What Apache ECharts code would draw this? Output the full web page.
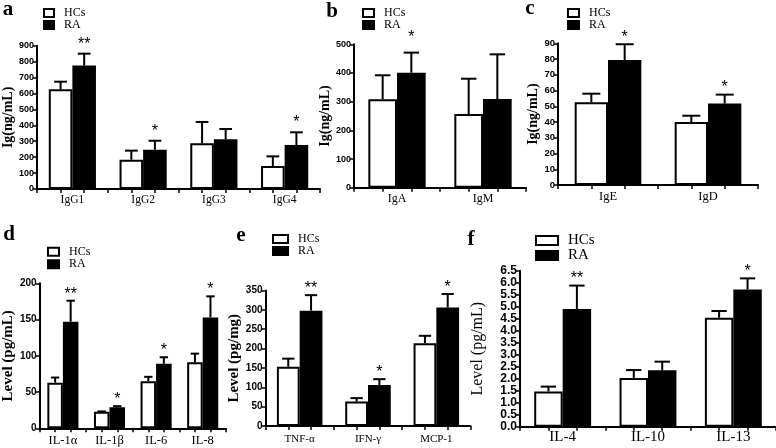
<!DOCTYPE html>
<html>
<head>
<meta charset="utf-8">
<script src="https://cdn.jsdelivr.net/npm/echarts@6/dist/echarts.min.js"></script>
<style>
html,body{margin:0;padding:0;background:#fff;}
#chart{width:776px;height:448px;}
</style>
</head>
<body>
<div id="chart"></div>
<script>
// ---- data ----
const seriesNames = ['HCs', 'RA'];

const catsA = ['IgG1', 'IgG2', 'IgG3', 'IgG4'];
const hcA = [626, 184, 287, 144];
const hcUpA = [674, 241, 421, 205];
const raA = [775, 247, 312, 276];
const raUpA = [850, 303, 377, 356];
const starsA = ['**', '*', '', '*'];

const catsB = ['IgA', 'IgM'];
const hcB = [308, 257];
const hcUpB = [392, 380];
const raB = [401, 309];
const raUpB = [471, 465];
const starsB = ['*', ''];

const catsC = ['IgE', 'IgD'];
const hcC = [52.5, 40];
const hcUpC = [58, 44];
const raC = [79.4, 51.7];
const raUpC = [89.4, 57.4];
const starsC = ['*', '*'];

const catsD = ['IL-1α', 'IL-1β', 'IL-6', 'IL-8'];
const hcD = [63, 23, 65, 91];
const hcUpD = [70, 23.3, 71, 103];
const raD = [147, 29, 89, 153];
const raUpD = [176, 30.5, 98, 182];
const starsD = ['**', '*', '*', '*'];

const catsE = ['TNF-α', 'IFN-γ', 'MCP-1'];
const hcE = [153, 63, 214];
const hcUpE = [174, 72, 233];
const raE = [298, 106, 306];
const raUpE = [338, 121, 341];
const starsE = ['**', '*', '*'];

const catsF = ['IL-4', 'IL-10', 'IL-13'];
const hcF = [1.47, 2.03, 4.54];
const hcUpF = [1.67, 2.36, 4.82];
const raF = [4.9, 2.35, 5.72];
const raUpF = [5.88, 2.71, 6.18];
const starsF = ['**', '', '*'];

const yMax = [900, 500, 90, 200, 350, 6.5];
const yInterval = [100, 100, 10, 50, 50, 0.5];
const yNames = ['Ig(ng/mL)', 'Ig(ng/mL)', 'Ig(ng/mL)', 'Level (pg/mL)', 'Level (pg/mg)', 'Level (pg/mL)'];
const panelLetters = ['a', 'b', 'c', 'd', 'e', 'f'];

// ---- layout / style ----
const SERIF = "'Liberation Serif','DejaVu Serif',serif";
const SANS = "'Liberation Sans','DejaVu Sans',sans-serif";

const panels = [
  {cats: catsA, hc: hcA, hcUp: hcUpA, ra: raA, raUp: raUpA, stars: starsA,
   grid: {left: 37, top: 45.7, width: 283, height: 143.3},
   yFont: 9, xFont: 11.5, xMargin: 5, nameFont: 14, nameGap: 22, nameBold: true, starGap: 13,
   legend: {left: 43, top: 7, w: 10, h: 8, font: 12, lh: 12},
   letter: [8, 10]},
  {cats: catsB, hc: hcB, hcUp: hcUpB, ra: raB, raUp: raUpB, stars: starsB,
   grid: {left: 354, top: 44.3, width: 172, height: 143.4},
   yFont: 9, xFont: 12, xMargin: 5, nameFont: 14, nameGap: 19, nameBold: true, starGap: 19,
   legend: {left: 362, top: 7, w: 11, h: 8, font: 12, lh: 12},
   letter: [332, 11.5]},
  {cats: catsC, hc: hcC, hcUp: hcUpC, ra: raC, raUp: raUpC, stars: starsC,
   grid: {left: 558, top: 43.3, width: 200, height: 141.7},
   yFont: 9.5, xFont: 12.5, xMargin: 5, nameFont: 14, nameGap: 18, nameBold: true, starGap: 10.5,
   legend: {left: 567, top: 7, w: 11, h: 8, font: 12, lh: 12},
   letter: [530, 9]},
  {cats: catsD, hc: hcD, hcUp: hcUpD, ra: raD, raUp: raUpD, stars: starsD,
   grid: {left: 36, top: 283.3, width: 190, height: 145},
   yFont: 10, xFont: 12.5, xMargin: 6, nameFont: 15, nameGap: 20, nameBold: true, starGap: 10,
   legend: {left: 47, top: 245.5, w: 11, h: 8, font: 12, lh: 12.5},
   letter: [9, 235]},
  {cats: catsE, hc: hcE, hcUp: hcUpE, ra: raE, raUp: raUpE, stars: starsE,
   grid: {left: 265.5, top: 290.5, width: 205, height: 135.5},
   yFont: 10, xFont: 11, xMargin: 8, nameFont: 15, nameGap: 14, nameBold: true, starGap: 10,
   legend: {left: 272, top: 233, w: 15, h: 8, font: 12, lh: 12},
   letter: [241, 236]},
  {cats: catsF, hc: hcF, hcUp: hcUpF, ra: raF, raUp: raUpF, stars: starsF,
   grid: {left: 520, top: 270.7, width: 258, height: 156},
   yFont: 12, xFont: 15, xMargin: 3, nameFont: 16, nameGap: 34, nameBold: false, starGap: 10,
   legend: {left: 535, top: 233, w: 22, h: 9, font: 15, lh: 15},
   letter: [471, 240]}
];

function errRenderer(side, stars, starGap, showStars) {
  return function (params, api) {
    const idx = api.value(0);
    const mean = api.value(1);
    const up = api.value(2);
    const base = api.coord([idx, mean]);
    const tp = api.coord([idx, up]);
    const band = api.size([1, 0])[0];
    const x = base[0] + side * band / 6;
    const capHalf = band / 3 * 0.27;
    const children = [
      {type: 'line', shape: {x1: x, y1: base[1], x2: x, y2: tp[1]},
       style: {stroke: '#000', lineWidth: 2}},
      {type: 'line', shape: {x1: x - capHalf, y1: tp[1], x2: x + capHalf, y2: tp[1]},
       style: {stroke: '#000', lineWidth: 2}}
    ];
    const s = showStars ? stars[params.dataIndex] : '';
    if (s) {
      children.push({type: 'text', x: x, y: tp[1] - starGap + 3.5,
        style: {text: s, fill: '#000', font: '16px ' + SANS, align: 'center', verticalAlign: 'middle'}});
    }
    return {type: 'group', children: children};
  };
}

const grids = [], xAxes = [], yAxes = [], series = [], legends = [], graphics = [];

panels.forEach((p, i) => {
  grids.push(Object.assign({containLabel: false}, p.grid));
  const n = p.cats.length;
  xAxes.push({
    type: 'category', gridIndex: i, data: p.cats, position: 'bottom',
    axisLine: {show: true, lineStyle: {color: '#000', width: 2}},
    axisTick: {show: false},
    axisLabel: {interval: 0, color: '#000', fontFamily: SERIF, fontSize: p.xFont, margin: p.xMargin}
  });
  xAxes.push({
    type: 'value', gridIndex: i, min: 0, max: 3 * n, interval: 1, position: 'bottom',
    axisLine: {show: false},
    axisTick: {show: true, length: 4, lineStyle: {color: '#000', width: 1.5}},
    axisLabel: {show: false}, splitLine: {show: false}
  });
  yAxes.push({
    type: 'value', gridIndex: i, min: 0, max: yMax[i], interval: yInterval[i],
    name: yNames[i], nameLocation: 'middle', nameGap: p.nameGap,
    nameTextStyle: {fontFamily: SERIF, fontSize: p.nameFont, fontWeight: p.nameBold ? 'bold' : 'normal', color: '#000'},
    axisLine: {show: true, lineStyle: {color: '#000', width: 2}},
    axisTick: {show: true, length: 4, lineStyle: {color: '#000', width: 1.5}},
    axisLabel: {color: '#000', fontFamily: SANS, fontWeight: 'bold', fontSize: p.yFont, margin: 3,
      formatter: i === 5 ? (v => v.toFixed(1)) : (v => String(v))},
    splitLine: {show: false}
  });
  const common = {type: 'bar', xAxisIndex: 2 * i, yAxisIndex: i, barGap: '0%', barCategoryGap: '33.33%', silent: true};
  series.push(Object.assign({}, common, {name: seriesNames[0], data: p.hc,
    itemStyle: {color: '#fff', borderColor: '#000', borderWidth: 2}}));
  series.push(Object.assign({}, common, {name: seriesNames[1], data: p.ra,
    itemStyle: {color: '#000', borderColor: '#000', borderWidth: 2}}));
  series.push({type: 'custom', xAxisIndex: 2 * i, yAxisIndex: i, silent: true,
    renderItem: errRenderer(-1, p.stars, p.starGap, false),
    data: p.hc.map((v, k) => [k, v, p.hcUp[k]])});
  series.push({type: 'custom', xAxisIndex: 2 * i, yAxisIndex: i, silent: true,
    renderItem: errRenderer(1, p.stars, p.starGap, true),
    data: p.ra.map((v, k) => [k, v, p.raUp[k]])});
  const L = p.legend;
  legends.push({
    data: seriesNames, orient: 'vertical', left: L.left, top: L.top, padding: 0,
    itemWidth: L.w, itemHeight: L.h, itemGap: 0, icon: 'rect', selectedMode: false,
    textStyle: {fontFamily: SERIF, fontSize: L.font, lineHeight: L.lh, color: '#000', padding: [0, 0, 0, 5]}
  });
  graphics.push({type: 'text', x: p.letter[0], y: p.letter[1],
    style: {text: panelLetters[i], font: 'bold 21px ' + SERIF, fill: '#000', align: 'center', verticalAlign: 'middle'}});
});

const chart = echarts.init(document.getElementById('chart'), null, {renderer: 'canvas'});
chart.setOption({
  animation: false,
  backgroundColor: '#fff',
  grid: grids,
  xAxis: xAxes,
  yAxis: yAxes,
  legend: legends,
  series: series,
  graphic: graphics
});
</script>
</body>
</html>
